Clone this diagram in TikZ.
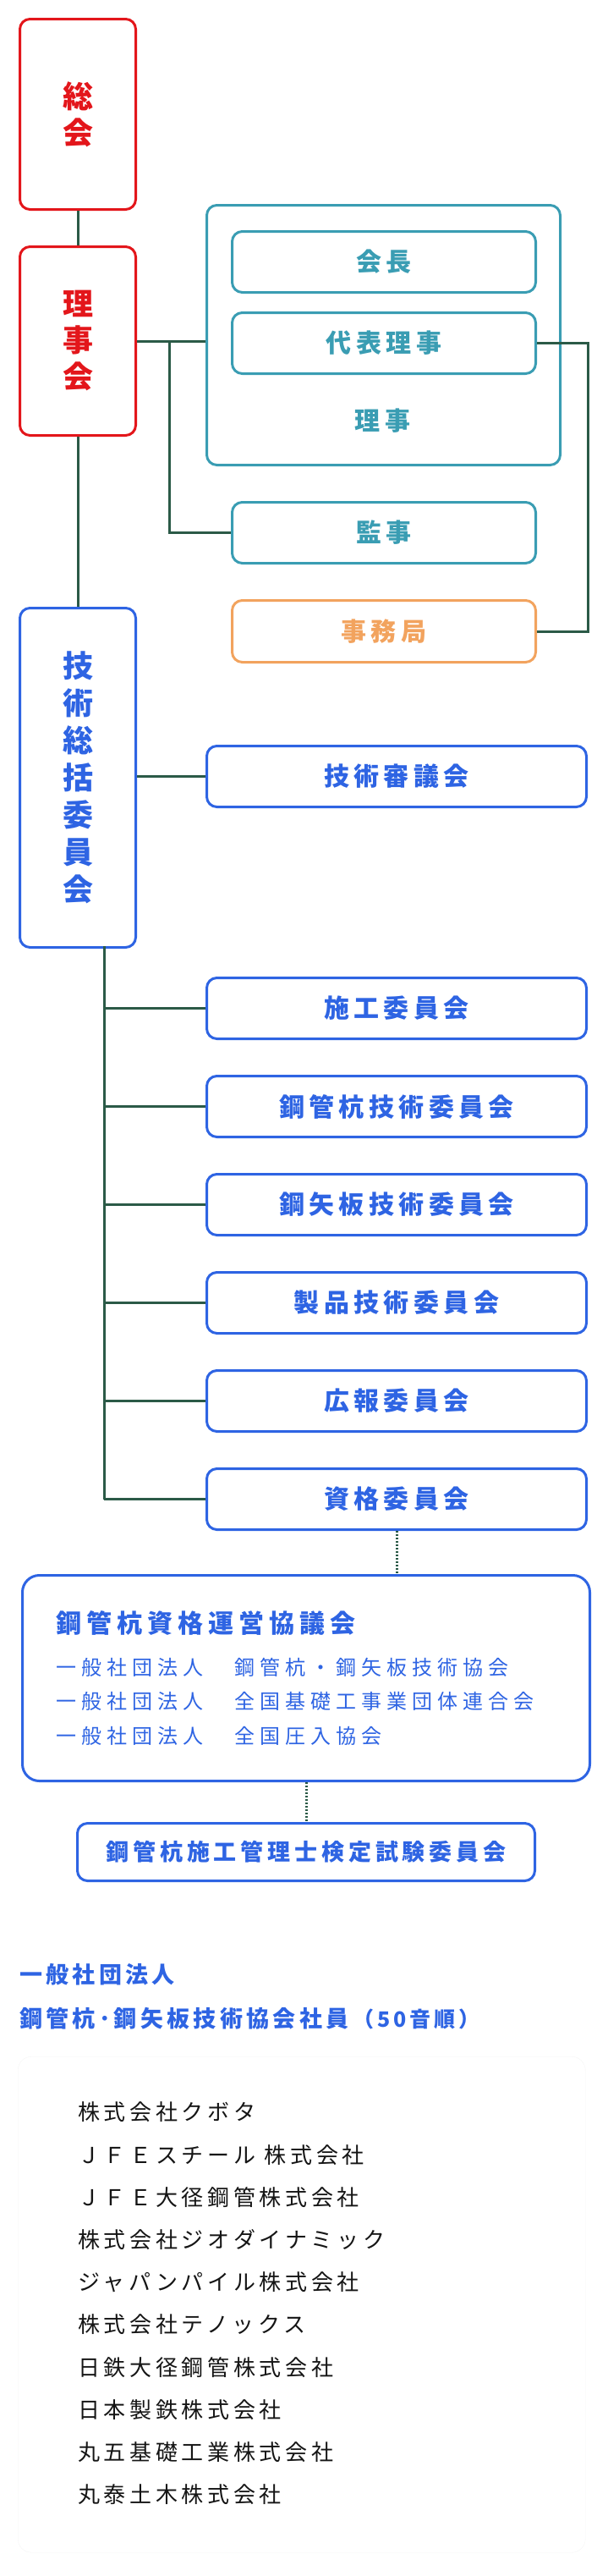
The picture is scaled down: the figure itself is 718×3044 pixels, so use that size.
\documentclass[tikz,border=0pt]{standalone}
\usepackage{fontspec}
\setmainfont{Noto Sans CJK JP}
\newfontfamily\jp{Noto Sans CJK JP}
\newcommand\ls[1]{\addfontfeatures{LetterSpace=#1}}
\newcommand\fs[1]{\fontsize{#1}{#1}\selectfont}
\definecolor{cred}{HTML}{E3161B}
\definecolor{cteal}{HTML}{3A9DB3}
\definecolor{corange}{HTML}{F2A35E}
\definecolor{cblue}{HTML}{2E64E3}
\definecolor{cline}{HTML}{2B5A47}
\definecolor{ctext}{HTML}{151515}
\begin{document}
\begin{tikzpicture}[x=1pt,y=-1pt,
  box/.style={draw,line width=3pt,rounded corners=12pt,anchor=north west,inner sep=0pt,font=\jp\bfseries\fs{30}\ls{18}},
  redbox/.style={box,draw=cred,text=cred,font=\jp\bfseries\fontsize{36}{43}\selectfont,align=center},
  tealbox/.style={box,draw=cteal,text=cteal},
  orbox/.style={box,draw=corange,text=corange},
  bluebox/.style={box,draw=cblue,text=cblue},
  conn/.style={draw=cline,line width=3pt},
  dots/.style={draw=cline,line width=3pt,dash pattern=on 2pt off 2pt},
  txt/.style={anchor=west,inner sep=0pt}]
\useasboundingbox (0,0) rectangle (718,3044);
% top
\node[redbox,minimum width=137pt,minimum height=225pt] (sokai) at (22,21) {総\\会};
\node[redbox,minimum width=137pt,minimum height=223pt] (rijikai) at (22,290) {理\\事\\会};
\node[box,draw=cteal,minimum width=418pt,minimum height=307pt] (outer) at (243,241) {};
\node[tealbox,minimum width=359pt,minimum height=72pt] (kaicho) at (273,272) {会長};
\node[tealbox,minimum width=359pt,minimum height=72pt] (daihyo) at (273,368) {代表理事};
\node[text=cteal,font=\jp\bfseries\fs{30}\ls{18},inner sep=0pt] (riji) at (452.5,497) {理事};
\node[tealbox,minimum width=359pt,minimum height=72pt] (kanji) at (273,592) {監事};
\node[orbox,minimum width=359pt,minimum height=73pt] (jimu) at (273,708) {事務局};
\node[box,draw=cblue,text=cblue,font=\jp\bfseries\fontsize{36}{44}\selectfont,align=center,minimum width=137pt,minimum height=401pt] (gs) at (22,717) {技\\術\\総\\括\\委\\員\\会};
\node[bluebox,minimum width=449pt,minimum height=72pt] (shingi) at (243,880) {技術審議会};
\foreach \n/\t [count=\i from 0] in {sekou/施工委員会,kokan/鋼管杭技術委員会,koya/鋼矢板技術委員会,seihin/製品技術委員会,koho/広報委員会,shikaku/資格委員会}
  \node[bluebox,minimum width=449pt,minimum height=72pt] (\n) at (243,1154+116*\i) {\t};
% connectors top
\draw[conn] (sokai.south) -- (rijikai.north);
\coordinate (br) at (200,403);
\draw[conn] (rijikai.east |- br) -- (outer.west |- br);
\draw[conn] (br) |- (kanji.west);
\draw[conn] (daihyo.east) -- ++(60,0) |- (jimu.east);
\draw[conn] (rijikai.south) -- (gs.north);
\draw[conn] (gs.east |- shingi.west) -- (shingi.west);
\coordinate (vtop) at (123,1118);
\coordinate (vbot) at (123,1772);
\draw[conn] (vtop) -- (vbot);
\foreach \n in {sekou,kokan,koya,seihin,koho,shikaku}
  \draw[conn] (vtop |- \n.west) -- (\n.west);
% council
\node[box,draw=cblue,rounded corners=20pt,minimum width=671pt,minimum height=243pt] (kyogi) at (25,1860) {};
\draw[dots] (shikaku.south) -- (kyogi.north -| shikaku.south);
\node[txt,text=cblue,font=\jp\bfseries\fs{30}\ls{20}] (kt) at (66,1918) {鋼管杭資格運営協議会};
\foreach \a/\b [count=\i from 0] in {a1/鋼管杭・鋼矢板技術協会,a2/全国基礎工事業団体連合会,a3/全国圧入協会}{
  \node[txt,text=cblue,font=\jp\fs{24}\ls{25}] (\a l) at (66,1970+40.5*\i) {一般社団法人};
  \node[txt,text=cblue,font=\jp\fs{24}\ls{25}] (\a r) at (277,1970+40.5*\i) {\b};
}
\node[bluebox,minimum width=541pt,minimum height=68pt,font=\jp\bfseries\fs{27}\ls{18}] (shiken) at (90,2153) {鋼管杭施工管理士検定試験委員会};
\draw[dots] (kyogi.south) -- (shiken.north);
% members
\node[txt,text=cblue,font=\jp\bfseries\fs{27}\ls{16}] (h1) at (23,2333) {一般社団法人};
\node[txt,text=cblue,font=\jp\bfseries\fs{27}\ls{16}] (h2) at (23,2385) {鋼管杭･鋼矢板技術協会社員\,{\fs{25}（50音順）}};
\node[draw=black!4,fill=white,rounded corners=16pt,anchor=north west,minimum width=671pt,minimum height=586pt,inner sep=0pt] (mem) at (21,2430) {};
\foreach \t [count=\i from 0] in {株式会社クボタ,ＪＦＥスチール 株式会社,ＪＦＥ大径鋼管株式会社,株式会社ジオダイナミック,ジャパンパイル株式会社,株式会社テノックス,日鉄大径鋼管株式会社,日本製鉄株式会社,丸五基礎工業株式会社,丸泰土木株式会社}
  \node[txt,text=ctext,font=\jp\fs{26}\ls{18}] (m\i) at (92,2496+50.2*\i) {\t};
\end{tikzpicture}
\end{document}
